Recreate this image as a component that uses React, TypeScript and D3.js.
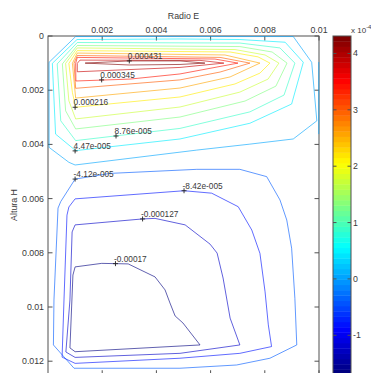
import React from 'react';
import * as d3 from 'd3';

// ---- layout ----
const W = 371;
const H = 373;
const plotLeft = 48;
const plotRight = 319;
const plotTop = 36;
const plotBottom = 374.75;
const cbLeft = 333;
const cbRight = 351;
const FONT = "'Liberation Sans', Arial, Helvetica, sans-serif";

// ---- axes ----
const MM = 1e-3; // contour vertices are stored in millimetres
const xDomain = [0, 0.01];
const yDomain = [0, 0.0125];
const xTickValues = [0.002, 0.004, 0.006, 0.008, 0.01];
const xTickLabels = ['0.002', '0.004', '0.006', '0.008', '0.01'];
const yTickValues = [0, 0.002, 0.004, 0.006, 0.008, 0.01, 0.012];
const yTickLabels = ['0', '0.002', '0.004', '0.006', '0.008', '0.01', '0.012'];
const colorMin = -1.7e-4;
const colorMax = 4.31e-4;
const cbTickValues = [-1, 0, 1, 2, 3, 4]; // in units of 1e-4
const cbBands = 64;

// ---- contour levels (stream function) ----
const upperLevels = [1.7e-6, 4.47e-5, 8.76e-5, 1.31e-4, 1.74e-4, 2.16e-4, 2.59e-4, 3.02e-4, 3.45e-4, 3.88e-4, 4.31e-4];
const lowerLevels = [-4.12e-5, -8.42e-5, -1.27e-4, -1.7e-4];

// upper (clockwise) cell, [x mm, y mm]
const upper0 = [[1.02, 0.02], [0.04, 0.97], [0.04, 4.11], [0.77, 4.66], [1.0, 4.76], [5.49, 4.21], [7.45, 3.99], [9.05, 3.8], [9.92, 3.13], [9.73, 0.97], [9.05, 0.02]];
const upper1 = [[1.07, 0.13], [4.87, 0.11], [7.08, 0.13], [8.75, 0.23], [9.42, 0.97], [8.99, 2.51], [7.45, 3.22], [4.87, 3.8], [1.02, 4.23], [0.28, 3.62], [0.16, 1.01]];
const upper2 = [[1.08, 0.24], [7.08, 0.26], [8.56, 0.44], [9.11, 1.0], [8.71, 2.18], [7.45, 2.8], [4.87, 3.41], [1.02, 3.86], [0.47, 3.13], [0.34, 1.03]];
const upper3 = [[1.08, 0.35], [7.08, 0.39], [8.27, 0.59], [8.82, 1.0], [8.41, 1.85], [7.27, 2.4], [4.87, 2.99], [1.02, 3.43], [0.65, 2.76], [0.53, 1.03]];
const upper4 = [[1.08, 0.44], [6.9, 0.5], [8.01, 0.7], [8.52, 1.0], [8.12, 1.59], [7.08, 2.07], [4.87, 2.62], [1.02, 3.06], [0.77, 2.39], [0.65, 1.01]];
const upper5 = [[1.08, 0.54], [6.72, 0.59], [7.75, 0.77], [8.19, 1.0], [7.82, 1.37], [6.9, 1.77], [4.87, 2.25], [1.02, 2.63], [0.9, 2.08], [0.77, 1.01]];
const upper6 = [[1.08, 0.63], [6.53, 0.7], [7.82, 1.0], [6.72, 1.51], [4.87, 1.92], [1.02, 2.29], [0.9, 1.01]];
const upper7 = [[1.08, 0.72], [6.35, 0.79], [7.45, 1.0], [6.35, 1.33], [4.87, 1.62], [1.02, 1.93], [0.96, 1.01]];
const upper8 = [[1.08, 0.79], [6.16, 0.85], [7.01, 1.0], [4.87, 1.4], [3.03, 1.59], [1.03, 1.66], [1.02, 1.01]];
const upper9 = [[1.18, 0.89], [5.61, 0.9], [6.49, 1.0], [4.87, 1.16], [1.08, 1.32], [1.08, 1.01]];
const upper10 = [[1.37, 1.0], [3.0, 0.92], [4.87, 0.92], [5.79, 1.0], [4.87, 1.05], [3.0, 1.07]];
const rightWall0 = [[9.99, 0.96], [9.99, 3.62]];

// lower (counter-clockwise) cell
const lower1 = [[1.0, 5.28], [2.29, 5.07], [5.49, 4.92], [7.08, 4.92], [8.07, 5.19], [8.56, 6.05], [8.81, 6.79], [8.99, 7.83], [9.11, 9.68], [9.18, 11.4], [8.19, 11.89], [6.96, 12.14], [4.87, 12.26], [0.96, 12.26], [0.2, 11.4], [0.22, 9.74], [0.37, 6.35], [0.47, 6.11]];
const lower2 = [[1.0, 6.01], [5.02, 5.71], [6.04, 5.8], [7.02, 6.3], [7.52, 7.16], [7.82, 8.02], [8.01, 9.44], [8.13, 10.66], [8.25, 11.46], [7.08, 11.71], [4.87, 11.89], [1.0, 12.08], [0.52, 11.85], [0.59, 9.74], [0.7, 6.61], [0.77, 6.31]];
const lower3 = [[1.0, 6.97], [3.49, 6.75], [3.95, 6.73], [5.06, 6.97], [5.98, 7.68], [6.24, 8.01], [6.46, 8.93], [6.72, 10.41], [7.08, 11.4], [4.87, 11.71], [1.0, 11.86], [0.66, 11.66], [0.81, 9.74], [0.89, 7.23]];
const lower4 = [[1.0, 8.52], [1.98, 8.39], [2.96, 8.41], [3.95, 8.89], [4.32, 9.37], [4.5, 9.85], [4.69, 10.33], [4.98, 10.59], [5.61, 11.4], [1.0, 11.65], [0.81, 11.51], [0.92, 8.82]];

const upperLines = [upper0, upper1, upper2, upper3, upper4, upper5, upper6, upper7, upper8, upper9, upper10];
const lowerLines = [lower1, lower2, lower3, lower4];

// ---- inline contour labels ----
const labelTexts = ['0.000431', '0.000345', '0.000216', '8.76e-005', '4.47e-005', '-4.12e-005', '-8.42e-005', '-0.000127', '-0.00017'];
const labelAnchors = [[3.0, 0.92], [1.98, 1.62], [1.0, 2.63], [2.51, 3.69], [1.0, 4.24], [1.0, 5.28], [5.02, 5.71], [3.49, 6.75], [2.49, 8.4]];

function jet(t: number): string {
  const c = (v: number) => Math.max(0, Math.min(1, v));
  const r = c(1.5 - Math.abs(4 * t - 3));
  const g = c(1.5 - Math.abs(4 * t - 2));
  const b = c(1.5 - Math.abs(4 * t - 1));
  return d3.rgb(r * 255, g * 255, b * 255).formatHex();
}

export default function App() {
  const x = d3.scaleLinear().domain(xDomain).range([plotLeft, plotRight]);
  const y = d3.scaleLinear().domain(yDomain).range([plotTop, plotBottom]);
  const cb = d3.scaleLinear().domain([colorMin, colorMax]).range([plotBottom, plotTop]);
  const tOf = d3.scaleLinear().domain([colorMin, colorMax]).range([0, 1]).clamp(true);

  const closedLine = d3
    .line<number[]>()
    .x((d) => x(d[0] * MM))
    .y((d) => y(d[1] * MM))
    .curve(d3.curveLinearClosed);
  const openLine = d3
    .line<number[]>()
    .x((d) => x(d[0] * MM))
    .y((d) => y(d[1] * MM));

  const contours = [
    ...upperLines.map((pts, i) => ({ level: upperLevels[i], d: closedLine(pts) })),
    { level: upperLevels[0], d: openLine(rightWall0) },
    ...lowerLines.map((pts, i) => ({ level: lowerLevels[i], d: closedLine(pts) })),
  ];

  const step = (colorMax - colorMin) / cbBands;
  const bands = d3.range(cbBands).map((i) => {
    const v0 = colorMin + i * step;
    const v1 = v0 + step;
    return { y: cb(v1), h: cb(v0) - cb(v1), color: jet(i / (cbBands - 1)) };
  });

  const axisColor = '#505050';
  const textColor = '#3a3a3a';

  return (
    <svg
      width={W}
      height={H}
      style={{ position: 'absolute', left: 0, top: 0, background: '#fff' }}
      fontFamily={FONT}
    >
      <rect x={0} y={0} width={W} height={H} fill="#fff" />

      {/* plot box */}
      <rect
        x={plotLeft}
        y={plotTop}
        width={plotRight - plotLeft}
        height={plotBottom - plotTop}
        fill="#fff"
        stroke={axisColor}
        strokeWidth={1}
      />
      {xTickValues.map((v) => (
        <g key={'xt' + v}>
          <line x1={x(v)} x2={x(v)} y1={plotTop} y2={plotTop + 4.5} stroke={axisColor} />
          <line x1={x(v)} x2={x(v)} y1={plotBottom} y2={plotBottom - 4.5} stroke={axisColor} />
        </g>
      ))}
      {yTickValues.map((v) => (
        <g key={'yt' + v}>
          <line x1={plotLeft} x2={plotLeft + 4.5} y1={y(v)} y2={y(v)} stroke={axisColor} />
          <line x1={plotRight} x2={plotRight - 4.5} y1={y(v)} y2={y(v)} stroke={axisColor} />
        </g>
      ))}

      {/* contour lines */}
      {contours.map((c, i) => (
        <path
          key={'c' + i}
          d={c.d || ''}
          fill="none"
          stroke={jet(tOf(c.level))}
          strokeWidth={1}
          strokeOpacity={0.62}
          strokeLinejoin="round"
        />
      ))}

      {/* contour labels */}
      {labelTexts.map((t, i) => {
        const px = x(labelAnchors[i][0] * MM);
        const py = y(labelAnchors[i][1] * MM);
        return (
          <g key={'lab' + i}>
            <line x1={px - 2.5} x2={px + 2.5} y1={py} y2={py} stroke="#222" strokeWidth={0.9} />
            <line x1={px} x2={px} y1={py - 2.5} y2={py + 2.5} stroke="#222" strokeWidth={0.9} />
            <text x={px - 1.5} y={py - 2} fontSize={8.3} fill={textColor}>
              {t}
            </text>
          </g>
        );
      })}

      {/* tick labels */}
      {xTickValues.map((v, i) => (
        <text key={'xl' + v} x={x(v)} y={33} fontSize={8.8} textAnchor="middle" fill={textColor}>
          {xTickLabels[i]}
        </text>
      ))}
      {yTickValues.map((v, i) => (
        <text key={'yl' + v} x={44} y={y(v) + 3} fontSize={8.8} textAnchor="end" fill={textColor}>
          {yTickLabels[i]}
        </text>
      ))}
      <text x={(plotLeft + plotRight) / 2} y={19} fontSize={8.8} textAnchor="middle" fill={textColor}>
        Radio E
      </text>
      <text
        transform={`translate(17, 205) rotate(-90)`}
        fontSize={8.8}
        textAnchor="middle"
        fill={textColor}
      >
        Altura H
      </text>

      {/* colorbar */}
      {bands.map((b, i) => (
        <rect key={'cb' + i} x={cbLeft} y={b.y} width={cbRight - cbLeft} height={b.h + 0.4} fill={b.color} />
      ))}
      <rect
        x={cbLeft}
        y={plotTop}
        width={cbRight - cbLeft}
        height={plotBottom - plotTop}
        fill="none"
        stroke={axisColor}
      />
      {cbTickValues.map((v) => (
        <g key={'cbt' + v}>
          <line x1={cbLeft} x2={cbLeft + 3.5} y1={cb(v * 1e-4)} y2={cb(v * 1e-4)} stroke={axisColor} />
          <line x1={cbRight} x2={cbRight - 3.5} y1={cb(v * 1e-4)} y2={cb(v * 1e-4)} stroke={axisColor} />
          <text x={353} y={cb(v * 1e-4) + 3} fontSize={8.8} fill={textColor}>
            {v}
          </text>
        </g>
      ))}
      <text x={351} y={33} fontSize={8} fill={textColor}>
        x 10
        <tspan dy={-4} fontSize={6}>
          -4
        </tspan>
      </text>
    </svg>
  );
}
